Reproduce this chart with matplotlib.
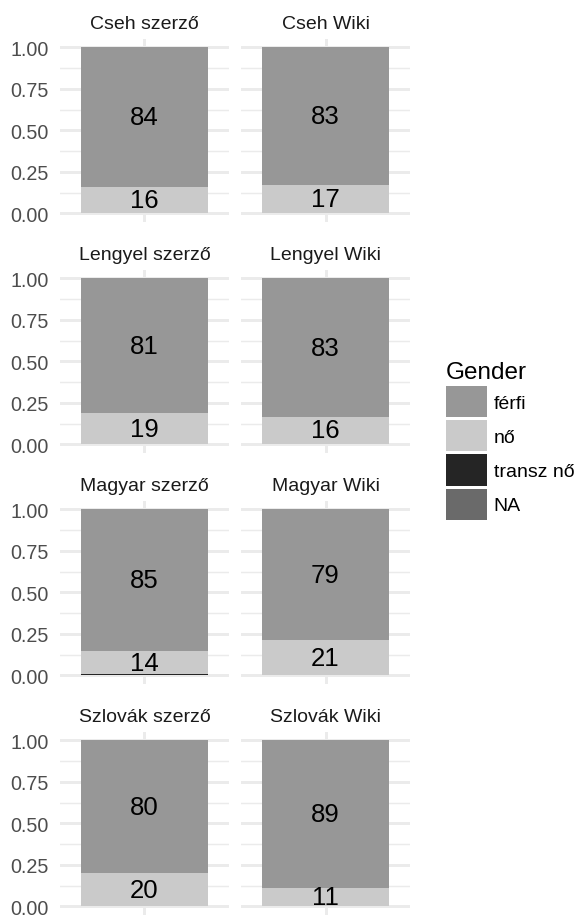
import numpy as np
import matplotlib
matplotlib.use("Agg")
import matplotlib.pyplot as plt
from matplotlib.patches import Patch

plt.rcParams['font.family'] = ['Liberation Sans', 'DejaVu Sans']

# adatok (aranyok)
panels = ["Cseh szerző", "Cseh Wiki",
          "Lengyel szerző", "Lengyel Wiki",
          "Magyar szerző", "Magyar Wiki",
          "Szlovák szerző", "Szlovák Wiki"]
genders = ["férfi", "nő", "transz nő", "NA"]
ferfi    = [0.84, 0.83, 0.81, 0.834, 0.853, 0.79, 0.80, 0.89]
no       = [0.16, 0.17, 0.19, 0.162, 0.142, 0.21, 0.20, 0.11]
transz   = [0.0, 0.0, 0.0, 0.0, 0.005, 0.0, 0.0, 0.0]
na       = [0.0, 0.0, 0.0, 0.004, 0.0, 0.0, 0.0, 0.0]
colors = {"férfi": "#979797", "nő": "#cacaca", "transz nő": "#252525", "NA": "#6a6a6a"}

W, H = 579, 920
fig = plt.figure(figsize=(W/100, H/100), dpi=100)

def px_axes(x0, y0, w, h):
    return fig.add_axes([x0/W, 1-(y0+h)/H, w/W, h/H])

grid_col = "#ebebeb"
for i, name in enumerate(panels):
    r, c = divmod(i, 2)
    ax = px_axes(60 + c*181, 40 + r*231, 169, 182.6)
    # ggplot: NA alul, majd transz no, no, ferfi felul
    parts = [("NA", na[i]), ("transz nő", transz[i]), ("nő", no[i]), ("férfi", ferfi[i])]
    bottom = 0
    for g, v in parts:
        if v > 0:
            ax.bar(1, v, width=0.9, bottom=bottom, color=colors[g], zorder=2)
            if g in ("nő", "férfi"):
                ax.text(1, bottom + v/2, "%d" % round(v*100), ha="center", va="center",
                        fontsize=18.5, color="black", zorder=3)
        bottom += v
    ax.set_xlim(0.4, 1.6)
    ax.set_ylim(-0.05, 1.05)
    ax.set_yticks([0, 0.25, 0.5, 0.75, 1.0])
    ax.set_yticks([0.125, 0.375, 0.625, 0.875], minor=True)
    ax.set_xticks([1])
    ax.grid(True, which="major", color=grid_col, linewidth=2.1, zorder=0)
    ax.grid(True, which="minor", axis="y", color=grid_col, linewidth=1.05, zorder=0)
    ax.set_axisbelow(True)
    for s in ax.spines.values():
        s.set_visible(False)
    ax.tick_params(which="both", length=0)
    ax.set_xticklabels([])
    if c == 0:
        ax.set_yticklabels(["0.00", "0.25", "0.50", "0.75", "1.00"], fontsize=14.2,
                           color="#4d4d4d")
        ax.tick_params(axis="y", pad=8)
    else:
        ax.set_yticklabels([])
    ax.set_title(name, fontsize=14, color="#1a1a1a", pad=8)

handles = [Patch(facecolor=colors[g], edgecolor="none") for g in genders]
leg = fig.legend(handles, genders, loc="upper left", bbox_to_anchor=(446/W, 1-362/H),
                 frameon=False, fontsize=14, title="Gender", title_fontsize=17.5,
                 handlelength=2.1, handleheight=2.1, labelspacing=0.15,
                 handletextpad=0.35, borderpad=0, borderaxespad=0, alignment="left")

fig.savefig("out.png", dpi=100)
